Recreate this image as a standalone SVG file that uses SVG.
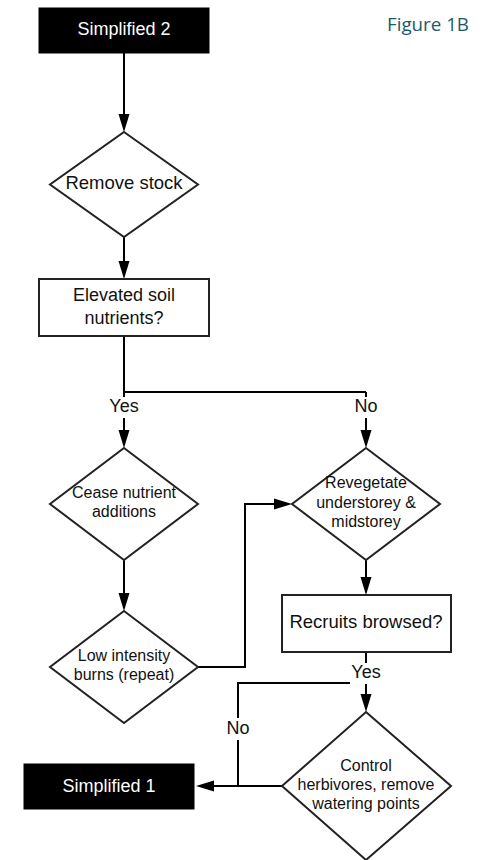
<svg xmlns="http://www.w3.org/2000/svg" width="481" height="860" viewBox="0 0 481 860">
<style>
.t{font-family:"Liberation Sans",Arial,sans-serif;text-anchor:middle;fill:#111}
.w{fill:#fff}
.s18{font-size:18px}
.s16{font-size:16px}
.box{fill:#fff;stroke:#222;stroke-width:2}
.blk{fill:#000;stroke:#000;stroke-width:1}
.ln{fill:none;stroke:#000;stroke-width:2}
.bg{fill:#fff}
</style>
<defs>
<marker id="ah" markerUnits="userSpaceOnUse" markerWidth="18" markerHeight="12" refX="15" refY="6" orient="auto">
<path d="M0,0.5 L18,6 L0,11.5 Z" fill="#000"/>
</marker>
</defs>
<rect width="481" height="860" fill="#fff"/>
<text x="428" y="31" font-family="'Open Sans','Noto Sans',sans-serif" font-size="19" font-weight="500" fill="#1b5a69" text-anchor="middle" textLength="82" lengthAdjust="spacingAndGlyphs">Figure 1B</text>
<g id="connectors">
<path class="ln" d="M124,53 V129" marker-end="url(#ah)"/>
<path class="ln" d="M124,237 V276" marker-end="url(#ah)"/>
<path class="ln" d="M124,336 V392 H366"/>
<path class="ln" d="M124,392 V445" marker-end="url(#ah)"/>
<path class="ln" d="M366,392 V445" marker-end="url(#ah)"/>
<path class="ln" d="M124,560 V608" marker-end="url(#ah)"/>
<path class="ln" d="M366,560 V592" marker-end="url(#ah)"/>
<path class="ln" d="M198,667 H245 V504 H289" marker-end="url(#ah)"/>
<path class="ln" d="M366,652 V709" marker-end="url(#ah)"/>
<path class="ln" d="M366,683 H238 V786"/>
<path class="ln" d="M282,786 H199" marker-end="url(#ah)"/>
<rect class="bg" x="107" y="397" width="34" height="21"/>
<text class="t s18" x="124" y="412">Yes</text>
<rect class="bg" x="353" y="397" width="27" height="21"/>
<text class="t s18" x="366" y="412">No</text>
<rect class="bg" x="350" y="663" width="33" height="21"/>
<text class="t s18" x="366" y="678">Yes</text>
<rect class="bg" x="225" y="718" width="27" height="22"/>
<text class="t s18" x="238" y="734">No</text>
</g>
<g id="simplified2">
<rect class="blk" x="39" y="8" width="170" height="45"/>
<text class="t s18 w" x="124" y="35">Simplified 2</text>
</g>
<g id="removeStock">
<polygon class="box" points="124,132 198,184.5 124,237 50,184.5"/>
<text class="t" font-size="18.5" x="124" y="189">Remove stock</text>
</g>
<g id="elevatedSoil">
<rect class="box" x="39" y="279" width="170" height="57"/>
<text class="t s18" x="124" y="301">Elevated soil</text>
<text class="t s18" x="124" y="324">nutrients?</text>
</g>
<g id="ceaseNutrient">
<polygon class="box" points="124,448 198,504 124,560 50,504"/>
<text class="t s16" x="124" y="498">Cease nutrient</text>
<text class="t s16" x="124" y="517">additions</text>
</g>
<g id="revegetate">
<polygon class="box" points="366,448 440,504 366,560 292,504"/>
<text class="t s16" x="366" y="488">Revegetate</text>
<text class="t s16" x="366" y="508">understorey &amp;</text>
<text class="t s16" x="366" y="527">midstorey</text>
</g>
<g id="lowIntensity">
<polygon class="box" points="124,611 198,667 124,723 50,667"/>
<text class="t s16" x="124" y="661">Low intensity</text>
<text class="t s16" x="124" y="680">burns (repeat)</text>
</g>
<g id="recruitsBrowsed">
<rect class="box" x="282" y="595" width="169" height="57"/>
<text class="t" font-size="18.5" x="366" y="628">Recruits browsed?</text>
</g>
<g id="controlHerbivores">
<polygon class="box" points="366,712 451,786 366,860 282,786"/>
<text class="t s16" x="366" y="771">Control</text>
<text class="t s16" x="366" y="790">herbivores, remove</text>
<text class="t s16" x="366" y="809">watering points</text>
</g>
<g id="simplified1">
<rect class="blk" x="24" y="764" width="170" height="45"/>
<text class="t s18 w" x="109" y="792">Simplified 1</text>
</g>
</svg>
